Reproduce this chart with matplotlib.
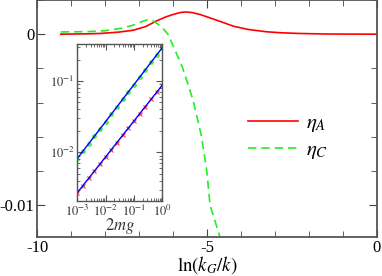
import numpy as np
import matplotlib
matplotlib.use("Agg")
import matplotlib.pyplot as plt
from matplotlib.ticker import FixedLocator, FixedFormatter, MultipleLocator, LogLocator, NullFormatter

plt.rcParams['font.family'] = ['Liberation Serif', 'DejaVu Serif']
plt.rcParams['mathtext.fontset'] = 'stix'

# main curves
xA = [-9.3, -8.5, -8.15, -7.6, -7.17, -6.8, -6.48, -6.2, -6.0, -5.8, -5.65, -5.45, -5.2, -4.95, -4.72, -4.45, -4.23, -3.8, -3.25, -2.8, -2.26, -1.5, -1.0, 0.0]
etaA = [0.0, 0.02e-3, 0.04e-3, 0.12e-3, 0.23e-3, 0.45e-3, 0.78e-3, 1.02e-3, 1.15e-3, 1.26e-3, 1.3e-3, 1.27e-3, 1.15e-3, 0.98e-3, 0.82e-3, 0.63e-3, 0.47e-3, 0.28e-3, 0.14e-3, 0.08e-3, 0.04e-3, 0.01e-3, 0.005e-3, 0.0]

xC = [-9.3, -8.5, -8.0, -7.5, -7.17, -6.9, -6.75, -6.6, -6.45, -6.29, -6.15, -5.94, -5.73, -5.41, -5.16, -5.01, -4.91, -4.62, -4.5]
etaC = [0.13e-3, 0.15e-3, 0.2e-3, 0.35e-3, 0.53e-3, 0.75e-3, 0.84e-3, 0.8e-3, 0.6e-3, 0.33e-3, 0.0, -0.94e-3, -1.9e-3, -3.86e-3, -6.0e-3, -7.95e-3, -10.0e-3, -11.87e-3, -12.6e-3]

# inset data
mg = [1e-3, 1.585e-3, 2.512e-3, 3.981e-3, 6.310e-3, 1e-2, 1.585e-2, 2.512e-2, 3.981e-2, 6.310e-2, 1e-1, 1.585e-1, 2.512e-1, 3.981e-1, 6.310e-1, 1.0]
inC = [0.0082, 0.01042, 0.01322, 0.01679, 0.0213, 0.02704, 0.03433, 0.04357, 0.05532, 0.07021, 0.0891, 0.1132, 0.1436, 0.1824, 0.2314, 0.2938]
inA = [0.00272, 0.00343, 0.00432, 0.00544, 0.00686, 0.00865, 0.01091, 0.01374, 0.01733, 0.02183, 0.02754, 0.03473, 0.04376, 0.05521, 0.06955, 0.0877]
fit_x = [1e-3, 1.0]
fitC = [0.0082, 0.2938]
fitA = [0.00272, 0.0877]

xticks = [-10, -5, 0]
xticklabels = ['-10', '-5', '0']
yticks = [-0.01, 0.0]
yticklabels = ['-0.01', '0']

fig = plt.figure(figsize=(3.82, 2.76), dpi=100)
ax = fig.add_axes([0.0969, 0.1413, 0.890, 0.8587])
ax.plot(xA, etaA, color='#ff0000', lw=1.2, label=r'$\eta_A$')
ax.plot(xC, etaC, color='#22ee22', lw=1.2, ls=(0, (5, 3)), label=r'$\eta_C$')
ax.set_xlim(-10, 0)
ax.set_ylim(-0.01187, 0.002)
ax.xaxis.set_major_locator(FixedLocator(xticks))
ax.xaxis.set_major_formatter(FixedFormatter(xticklabels))
ax.yaxis.set_major_locator(FixedLocator(yticks))
ax.yaxis.set_major_formatter(FixedFormatter(yticklabels))
ax.xaxis.set_minor_locator(MultipleLocator(1))
ax.yaxis.set_minor_locator(MultipleLocator(0.002))
ax.tick_params(which='both', direction='in', top=True, right=True, colors='#444444', labelcolor='black')
ax.tick_params(which='major', length=6, labelsize=12, pad=2)
ax.tick_params(which='minor', length=4)
for s in ax.spines.values():
    s.set_color('#555555')
    s.set_linewidth(1.3)
ax.set_xlabel(r'$\ln(k_G/k)$', fontsize=13.5, labelpad=-1)
leg = ax.legend(loc='upper left', bbox_to_anchor=(0.565, 0.60), frameon=False, fontsize=15,
                handlelength=2.4, labelspacing=0.3, handletextpad=0.4)

ins = fig.add_axes([0.2024, 0.2728, 0.2225, 0.5667])
ins.plot(fit_x, fitC, color='#0000ff', lw=1.0)
ins.plot(fit_x, fitA, color='#0000ff', lw=1.0)
ins.plot(mg, inC, 'o', color='#33ee33', ms=2.5, alpha=0.8, zorder=1)
ins.plot(mg, inA, 'x', color='#ff3333', ms=3, mew=0.8, zorder=1)
ins.set_xscale('log')
ins.set_yscale('log')
ins.set_xlim(1e-3, 1.0)
ins.set_ylim(0.0021, 0.327)
ins.xaxis.set_major_locator(FixedLocator([1e-3, 1e-2, 1e-1, 1e0]))
ins.xaxis.set_major_formatter(FixedFormatter([r'$10^{-3}$', r'$10^{-2}$', r'$10^{-1}$', r'$10^{0}$']))
ins.yaxis.set_major_locator(FixedLocator([1e-2, 1e-1]))
ins.yaxis.set_major_formatter(FixedFormatter([r'$10^{-2}$', r'$10^{-1}$']))
ins.xaxis.set_minor_locator(LogLocator(base=10, subs=np.arange(2, 10)))
ins.yaxis.set_minor_locator(LogLocator(base=10, subs=np.arange(2, 10)))
ins.xaxis.set_minor_formatter(NullFormatter())
ins.yaxis.set_minor_formatter(NullFormatter())
ins.tick_params(which='both', direction='in', top=True, right=True, colors='#555555', labelcolor='#333333', labelsize=9)
ins.tick_params(which='major', length=4, pad=2)
ins.tick_params(which='minor', length=2)
for s in ins.spines.values():
    s.set_color('#555555')
    s.set_linewidth(1.0)
ins.set_xlabel(r'$2mg$', fontsize=12, labelpad=-2, color='#333333')

fig.savefig('out.png', dpi=100)
